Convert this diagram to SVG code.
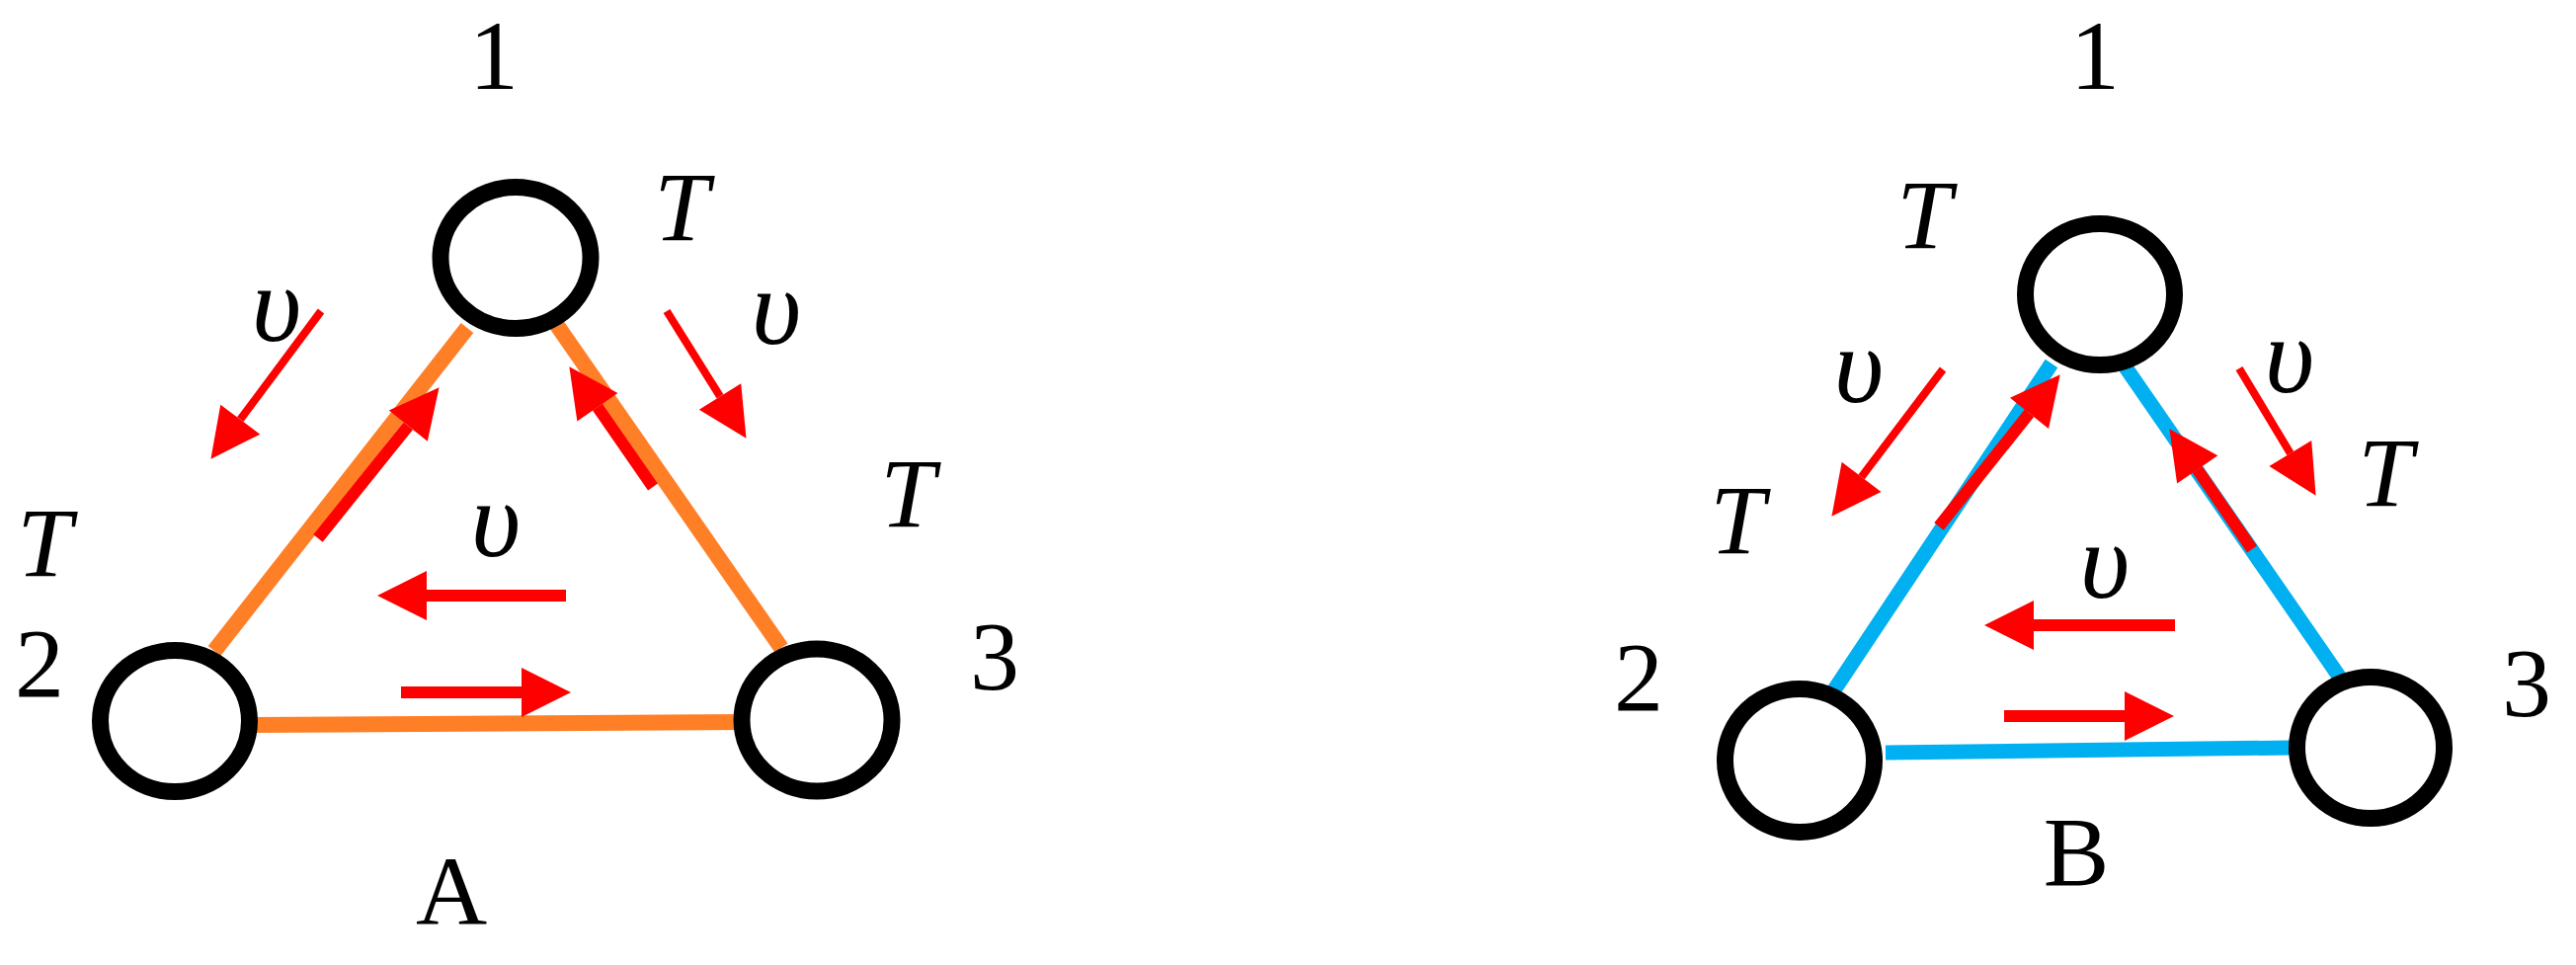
<svg xmlns="http://www.w3.org/2000/svg" width="2608" height="977" viewBox="0 0 2608 977">
<style>
.node{fill:none;stroke:#000;stroke-width:17}
.eA{stroke:#FF7F27;stroke-width:16;fill:none}
.eB{stroke:#00B0F0;stroke-width:15;fill:none}
.ar{stroke:#FF0000;fill:none;marker-end:url(#ah)}
.thin{stroke-width:8}
.thick{stroke-width:12}
.lbl{font-family:"Liberation Serif","Times New Roman",serif;font-size:100px;fill:#000;text-anchor:middle}
.it{font-style:italic}
.up{font-family:"Liberation Serif","Times New Roman",serif;font-style:italic;font-size:110px;fill:#000;text-anchor:middle}
</style>
<defs>
<marker id="ah" markerUnits="userSpaceOnUse" markerWidth="52" markerHeight="52" viewBox="0 -26 52 52" refX="0" refY="0" orient="auto" overflow="visible">
<path d="M0,-25 L50,0 L0,25 Z" fill="#FF0000"/>
</marker>
</defs>
<rect width="2608" height="977" fill="#fff"/>

<g id="connectors">
<line class="eA" x1="473" y1="332" x2="217" y2="659"/>
<line class="eA" x1="563" y1="328" x2="791" y2="656"/>
<line class="eA" x1="257" y1="734" x2="755" y2="731"/>
<line class="eB" x1="2077" y1="368" x2="1856" y2="700"/>
<line class="eB" x1="2150" y1="369" x2="2369" y2="686"/>
<line class="eB" x1="1909" y1="762" x2="2318" y2="757"/>
</g>

<g id="arrows">
<line class="ar thin" x1="325" y1="315" x2="243.3" y2="424.7"/>
<line class="ar thin" x1="675" y1="315" x2="729" y2="401.4"/>
<line class="ar thick" x1="322" y1="545" x2="413.3" y2="431.2"/>
<line class="ar thick" x1="661" y1="493" x2="604.9" y2="412.2"/>
<line class="ar thick" x1="573" y1="603" x2="432" y2="603"/>
<line class="ar thick" x1="406" y1="701" x2="528" y2="701"/>

<line class="ar thin" x1="1967" y1="374" x2="1884.6" y2="482.9"/>
<line class="ar thin" x1="2267" y1="373" x2="2318.8" y2="459"/>
<line class="ar thick" x1="1963" y1="533" x2="2054.5" y2="418.3"/>
<line class="ar thick" x1="2280" y1="556" x2="2224.7" y2="475.4"/>
<line class="ar thick" x1="2202" y1="633" x2="2059" y2="633"/>
<line class="ar thick" x1="2029" y1="725" x2="2151" y2="725"/>
</g>

<g id="A-node1"><ellipse class="node" cx="522" cy="261" rx="76" ry="71.5"/></g>
<g id="A-node2"><ellipse class="node" cx="177" cy="730" rx="75.5" ry="71.5"/></g>
<g id="A-node3"><ellipse class="node" cx="827" cy="729" rx="76" ry="72"/></g>
<g id="B-node1"><ellipse class="node" cx="2126" cy="298" rx="75.5" ry="71.5"/></g>
<g id="B-node2"><ellipse class="node" cx="1822" cy="770" rx="75.5" ry="72.5"/></g>
<g id="B-node3"><ellipse class="node" cx="2400" cy="757" rx="74.5" ry="71.5"/></g>

<g id="labels-A">
<text class="lbl" x="500" y="90">1</text>
<text class="lbl" x="40" y="705">2</text>
<text class="lbl" x="1007" y="698">3</text>
<text class="lbl" x="457" y="936">A</text>
<text class="lbl it" x="690" y="243">T</text>
<text class="lbl it" x="45" y="583">T</text>
<text class="lbl it" x="919" y="533">T</text>
<text class="up" x="280" y="345">υ</text>
<text class="up" x="786" y="348">υ</text>
<text class="up" x="502" y="563">υ</text>
</g>

<g id="labels-B">
<text class="lbl" x="2121" y="90">1</text>
<text class="lbl" x="1659" y="719">2</text>
<text class="lbl" x="2558" y="725">3</text>
<text class="lbl" x="2102" y="896">B</text>
<text class="lbl it" x="1948" y="251">T</text>
<text class="lbl it" x="1759" y="560">T</text>
<text class="lbl it" x="2415" y="512">T</text>
<text class="up" x="1882" y="407">υ</text>
<text class="up" x="2318" y="397">υ</text>
<text class="up" x="2131" y="605">υ</text>
</g>
</svg>
